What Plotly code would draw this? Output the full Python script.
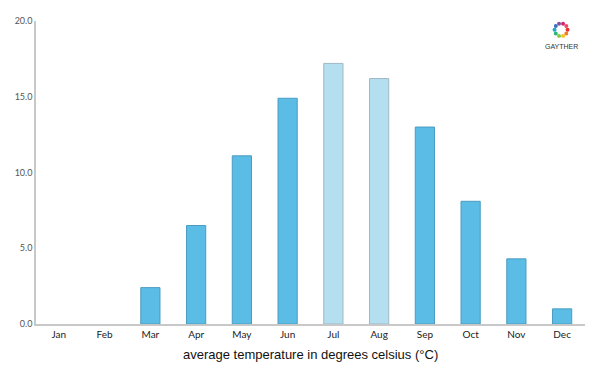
import math
import plotly.graph_objects as go

months = ["Jan", "Feb", "Mar", "Apr", "May", "Jun", "Jul", "Aug", "Sep", "Oct", "Nov", "Dec"]
temps = [0.0, 0.0, 2.4, 6.5, 11.1, 14.9, 17.2, 16.2, 13.0, 8.1, 4.3, 1.0]
summer = ["Jul", "Aug"]

colors = ["#b3dff1" if m in summer else "#5bbde6" for m in months]
lines = ["#9fb8c4" if m in summer else "#4a9cc0" for m in months]
line_w = [0 if t == 0 else 1 for t in temps]

W, H = 592, 367
L, T, R, B = 27, 7, 15, 51
PW, PH = W - L - R, H - T - B

fig = go.Figure(go.Bar(
    x=months, y=temps,
    marker=dict(color=colors, line=dict(color=lines, width=line_w)),
    width=0.42,
))

def px(x):
    return (x - 8 - L) / PW

def py(y):
    return (H - B - (y - 8)) / PH

shapes = []
logo_cols = ["#e8312f", "#f47b20", "#f9c01a", "#8cc63f", "#2bb673", "#1fa9c9", "#3b73b9", "#8b4f9f", "#d6246e", "#ee4a6a"]
cx, cy = 561, 24
for i, c in enumerate(logo_cols):
    a = 2 * math.pi * i / len(logo_cols)
    x = cx + 6.5 * math.cos(a)
    y = cy + 6.5 * math.sin(a)
    shapes.append(dict(type="circle", xref="paper", yref="paper",
                       x0=px(x - 2), x1=px(x + 2),
                       y0=py(y + 2), y1=py(y - 2),
                       fillcolor=c, line=dict(width=0)))

fig.update_layout(
    width=W, height=H,
    margin=dict(l=L, r=R, t=T, b=B),
    paper_bgcolor="white", plot_bgcolor="white",
    showlegend=False,
    font=dict(family="Lato, DejaVu Sans", color="#333"),
    xaxis=dict(showline=True, linecolor="#c8c8c8", linewidth=1.5, ticks="",
               tickfont=dict(size=10, color="#222"), showgrid=False, zeroline=False),
    yaxis=dict(range=[0, 20], tickvals=[0, 5, 10, 15, 20],
               ticktext=["0.0", "5.0", "10.0", "15.0", "20.0"],
               showline=True, linecolor="#c8c8c8", linewidth=1.5, ticks="",
               tickfont=dict(size=9, color="#555"), showgrid=False, zeroline=False),
    shapes=shapes,
    annotations=[
        dict(text="average temperature in degrees celsius (°C)", xref="paper", yref="paper",
             x=px(310), y=py(355), xanchor="center", yanchor="middle", showarrow=False,
             font=dict(family="Liberation Sans, Arial", size=13, color="#111")),
        dict(text="GAYTHER", xref="paper", yref="paper",
             x=px(561), y=py(41), xanchor="center", yanchor="middle",
             showarrow=False, font=dict(family="Liberation Sans, Arial", size=7, color="#333")),
    ],
)

fig.write_html("out.html")
